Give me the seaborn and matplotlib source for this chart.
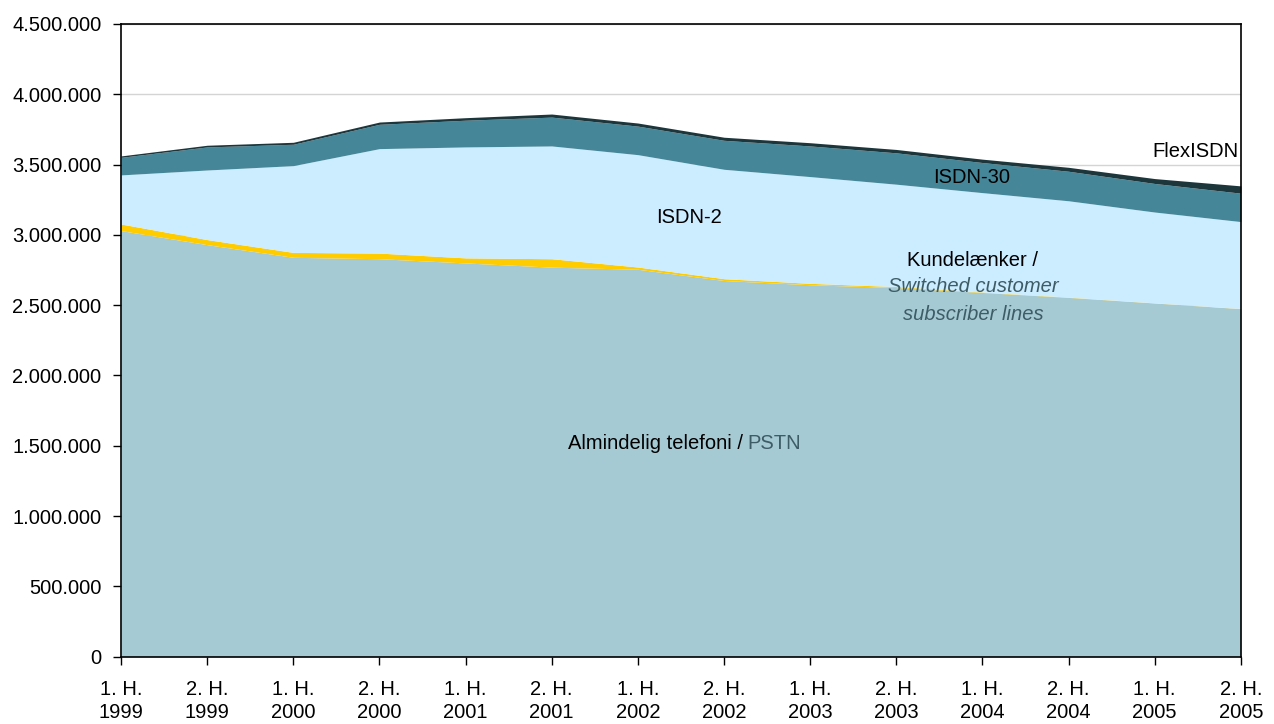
import numpy as np
import pandas as pd
import matplotlib
matplotlib.use("Agg")
import matplotlib.pyplot as plt
import seaborn as sns
from matplotlib.ticker import FuncFormatter

# %% data
perioder = ["1. H.\n1999", "2. H.\n1999", "1. H.\n2000", "2. H.\n2000", "1. H.\n2001",
            "2. H.\n2001", "1. H.\n2002", "2. H.\n2002", "1. H.\n2003", "2. H.\n2003",
            "1. H.\n2004", "2. H.\n2004", "1. H.\n2005", "2. H.\n2005"]
pstn = [3030000, 2930000, 2840000, 2830000, 2800000, 2770000, 2755000,
        2675000, 2645000, 2625000, 2590000, 2555000, 2515000, 2475000]
kundelaenker = [47000, 36000, 35000, 40000, 36000, 60000, 16000,
                13000, 10000, 7000, 3000, 2000, 1000, 1000]
isdn2 = [349000, 495000, 617000, 743000, 789000, 802000, 799000,
         778000, 759000, 728000, 707000, 685000, 646000, 618000]
isdn30 = [125000, 164000, 152000, 173000, 190000, 205000, 203000,
          206000, 218000, 223000, 214000, 210000, 203000, 202000]
flexisdn = [10000, 12000, 14000, 16000, 18000, 22000, 22000,
            22000, 23000, 24000, 24000, 28000, 35000, 52000]

veri = pd.DataFrame({"PSTN": pstn, "Kundelaenker": kundelaenker, "ISDN-2": isdn2,
                     "ISDN-30": isdn30, "FlexISDN": flexisdn}, index=perioder)
renkler = ["#A6CAD4", "#FFCC00", "#CCECFF", "#458799", "#1C363C"]

# %% grafik
sns.set_style("white")
plt.rcParams["font.family"] = ["Liberation Sans", "DejaVu Sans"]
plt.rcParams["text.color"] = "black"
plt.rcParams["xtick.color"] = "black"
plt.rcParams["ytick.color"] = "black"
fs = 14.5

fig, ax = plt.subplots(figsize=(12.74, 7.24), dpi=100)
fig.subplots_adjust(left=0.095, right=0.974, top=0.967, bottom=0.093)

x = np.arange(len(perioder))
ax.stackplot(x, veri.T.values, colors=renkler, linewidth=0)

ax.set_xlim(0, len(perioder) - 1)
ax.set_ylim(0, 4500000)
ax.set_yticks(np.arange(0, 4500001, 500000))
ax.yaxis.set_major_formatter(FuncFormatter(lambda v, p: f"{int(v):,}".replace(",", ".")))
ax.set_xticks(x)
ax.set_xticklabels(perioder, linespacing=1.25)
ax.grid(axis="y", color="#D4D4D4", linewidth=1)
ax.set_axisbelow(True)
ax.tick_params(axis="both", labelsize=fs, direction="out", length=6, width=1,
               bottom=True, left=True)
ax.tick_params(axis="x", pad=11)
ax.tick_params(axis="y", pad=8)
for s in ax.spines.values():
    s.set_visible(True)
    s.set_color("black")
    s.set_linewidth(1.2)

# serie etiketleri
ax.text(12.97, 3590000, "FlexISDN", ha="right", va="center", fontsize=fs)
ax.text(9.88, 3410000, "ISDN-30", ha="center", va="center", fontsize=fs)
ax.text(6.59, 3120000, "ISDN-2", ha="center", va="center", fontsize=fs)
ax.text(9.89, 2820000, "Kundelænker /", ha="center", va="center", fontsize=fs)
ax.text(9.89, 2630000, "Switched customer", ha="center", va="center", fontsize=fs,
        style="italic", color="#3D5C66")
ax.text(9.89, 2435000, "subscriber lines", ha="center", va="center", fontsize=fs,
        style="italic", color="#3D5C66")
ax.annotate("Almindelig telefoni /", xy=(7.245, 1515000), xytext=(-2, 0),
            textcoords="offset pixels", ha="right", va="center", fontsize=fs)
ax.annotate("PSTN", xy=(7.245, 1515000), xytext=(2, 0),
            textcoords="offset pixels", ha="left", va="center", fontsize=fs,
            color="#3D5C66")

plt.savefig("out.png", dpi=100)
